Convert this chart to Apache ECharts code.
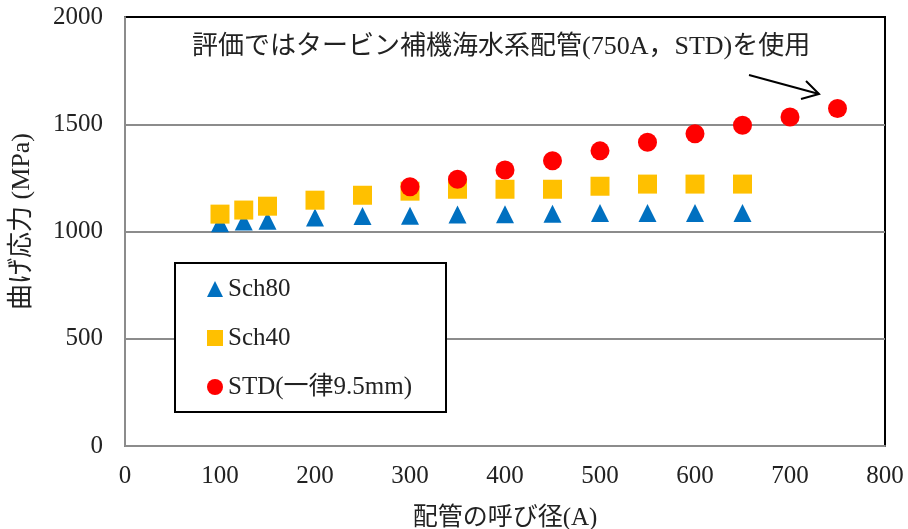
<!DOCTYPE html>
<html>
<head>
<meta charset="utf-8">
<script src="https://cdn.jsdelivr.net/npm/echarts@6/dist/echarts.min.js"></script>
<style>html,body{margin:0;padding:0;background:#fff}#c{width:908px;height:529px}</style>
</head>
<body>
<div id="c"></div>
<script>
// ---- data ----
const pipeSizes = [100, 125, 150, 200, 250, 300, 350, 400, 450, 500, 550, 600, 650];
const sch80Values = [1039, 1047, 1050, 1065, 1072, 1074, 1079, 1081, 1083, 1086, 1086, 1086, 1086];
const sch40Values = [1081, 1100, 1118, 1146, 1169, 1188, 1197, 1197, 1197, 1211, 1221, 1221, 1221];
const stdSizes = [300, 350, 400, 450, 500, 550, 600, 650, 700, 750];
const stdValues = [1209, 1244, 1287, 1330, 1376, 1416, 1456, 1495, 1534, 1573];
const seriesNames = ['Sch80', 'Sch40', 'STD(一律9.5mm)'];
const xAxisName = '配管の呼び径(A)';
const yAxisName = '曲げ応力 (MPa)';
const noteText = '評価ではタービン補機海水系配管(750A，STD)を使用';

const FONT = "'Liberation Serif', 'Noto Sans CJK JP', serif";
const TXT = '#222';

const chart = echarts.init(document.getElementById('c'), null, {renderer: 'canvas'});
const pair = (xs, ys) => xs.map((x, i) => [x, ys[i]]);

chart.setOption({
  animation: false,
  backgroundColor: '#fff',
  textStyle: {fontFamily: FONT},
  title: {
    text: noteText,
    left: 192, top: 34, padding: 0,
    textStyle: {fontFamily: FONT, fontSize: 26, fontWeight: 'normal', color: TXT}
  },
  grid: {left: 125, right: 23, top: 17, bottom: 83, show: true, borderColor: '#000', borderWidth: 2,
         backgroundColor: 'transparent', containLabel: false, outerBoundsMode: 'none'},
  legend: {
    orient: 'vertical', left: 207, top: 276, padding: 0,
    itemWidth: 16, itemHeight: 16, itemGap: 23,
    textStyle: {fontFamily: FONT, fontSize: 25, color: TXT, lineHeight: 26},
    data: [
      {name: seriesNames[0], icon: 'triangle'},
      {name: seriesNames[1], icon: 'rect'},
      {name: seriesNames[2], icon: 'circle'}
    ]
  },
  xAxis: {
    type: 'value', min: 0, max: 800, interval: 100,
    name: xAxisName, nameLocation: 'middle', nameGap: 60,
    nameTextStyle: {fontFamily: FONT, fontSize: 25, color: TXT},
    axisLine: {show: true, lineStyle: {color: '#8c8c8c', width: 2}},
    axisTick: {show: false},
    splitLine: {show: false},
    axisLabel: {fontFamily: FONT, fontSize: 25, color: TXT, margin: 18, formatter: v => String(v)}
  },
  yAxis: {
    type: 'value', min: 0, max: 2000, interval: 500,
    name: yAxisName, nameLocation: 'middle', nameGap: 90, nameRotate: 90,
    nameTextStyle: {fontFamily: FONT, fontSize: 26, color: TXT, padding: [0, 0, 0, 20]},
    axisLine: {show: true, lineStyle: {color: '#8c8c8c', width: 2}},
    axisTick: {show: false},
    splitLine: {show: true, showMaxLine: false, lineStyle: {color: '#8c8c8c', width: 2}},
    axisLabel: {fontFamily: FONT, fontSize: 25, color: TXT, margin: 22, formatter: v => String(v)}
  },
  graphic: [
    {type: 'rect', shape: {x: 175, y: 263, width: 271, height: 149}, style: {fill: '#fff', stroke: '#000', lineWidth: 2}, z: 3},
    {type: 'line', shape: {x1: 749, y1: 75, x2: 819, y2: 94}, style: {stroke: '#000', lineWidth: 2}, z: 10},
    {type: 'polyline', shape: {points: [[806, 81], [819, 94], [801, 99]]}, style: {stroke: '#000', lineWidth: 2, fill: null}, z: 10}
  ],
  series: [
    {name: seriesNames[0], type: 'scatter', symbol: 'triangle', symbolSize: [18, 18], itemStyle: {color: '#0070C0', opacity: 1}, data: pair(pipeSizes, sch80Values), z: 2},
    {name: seriesNames[1], type: 'scatter', symbol: 'rect', symbolSize: 19, itemStyle: {color: '#FFC000', opacity: 1}, data: pair(pipeSizes, sch40Values), z: 2},
    {name: seriesNames[2], type: 'scatter', symbol: 'circle', symbolSize: 19, itemStyle: {color: '#FF0000', opacity: 1}, data: pair(stdSizes, stdValues), z: 2}
  ]
});
</script>
</body>
</html>
